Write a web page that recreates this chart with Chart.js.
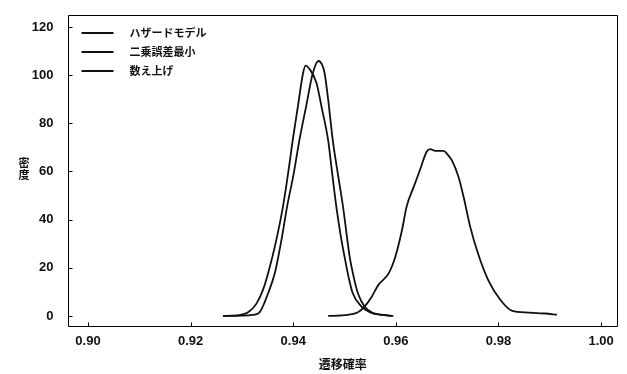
<!DOCTYPE html>
<html><head><meta charset="utf-8">
<script src="https://cdn.jsdelivr.net/npm/chart.js@4.4.1/dist/chart.umd.min.js"></script>
<style>html,body{margin:0;padding:0;background:#fff}#wrap{width:627px;height:374px;position:relative}</style>
</head><body><div id="wrap"><canvas id="c"></canvas></div>
<script>
const seriesLabels = ['ハザードモデル', '二乗誤差最小', '数え上げ'];

const hazardX = [0.9263,0.9290,0.9312,0.9328,0.9341,0.9351,0.9367,0.9380,0.9390,0.9399,0.9409,0.9419,0.9424,0.9432,0.9445,0.9456,0.9468,0.9476,0.9484,0.9492,0.9500,0.9508,0.9516,0.9533,0.9550,0.9570,0.9593];
const hazardY = [0,0.2,1.5,5,10.8,17.7,31.5,45.4,59.2,73,86.9,100.7,104,102.5,97,86,73,59,45.4,34,24.6,16,9.4,3.9,1.5,0.5,0];

const lsqX = [0.9263,0.9300,0.9320,0.9334,0.9351,0.9364,0.9377,0.9388,0.9401,0.9412,0.9425,0.9438,0.9449,0.9456,0.9461,0.9468,0.9477,0.9487,0.9497,0.9510,0.9518,0.9526,0.9539,0.9555,0.9575,0.9595];
const lsqY = [0,0.1,0.4,1.4,9.4,17.7,31.5,45.4,59.2,73,86.9,100.7,105.9,104.5,101,90,73,59,45.4,24.6,16,9.4,3.9,1.2,0.4,0];

const countX = [0.9468,0.9500,0.9526,0.9539,0.9553,0.9566,0.9586,0.9599,0.9612,0.9621,0.9635,0.9647,0.9660,0.9667,0.9677,0.9693,0.9701,0.9709,0.9722,0.9732,0.9745,0.9760,0.9780,0.9804,0.9826,0.9859,0.9891,0.9914];
const countY = [0,0.3,1.5,3.9,8,12.9,17.7,24.6,35.7,45.4,53.7,60.6,68.2,69.3,68.6,68.6,67,64.7,57.8,49.5,37,26,14.9,6.6,2.2,1.4,1,0.5];

const xTickValues = [0.90, 0.92, 0.94, 0.96, 0.98, 1.00];
const yTickValues = [0, 20, 40, 60, 80, 100, 120];
const xTitle = '遷移確率';
const yTitle = '密度';

const toPts = (xs, ys) => xs.map((v, i) => ({x: v, y: ys[i]}));
const seriesData = [toPts(hazardX, hazardY), toPts(lsqX, lsqY), toPts(countX, countY)];

const INK = '#111111';
const CJK = '"Noto Sans CJK JP", "Noto Sans CJK SC", sans-serif';
const NUM = '"Liberation Sans", Arial, sans-serif';

const framePlugin = {
  id: 'frame',
  afterDraw(chart) {
    const ctx = chart.ctx;
    const a = chart.chartArea;
    const x = chart.scales.x, y = chart.scales.y;
    const L = Math.round(a.left) + 0.5, R = Math.round(a.right) - 0.5;
    const T = Math.round(a.top) + 0.5, B = Math.round(a.bottom) - 0.5;
    ctx.save();
    ctx.strokeStyle = '#000000';
    ctx.lineWidth = 1;
    ctx.beginPath();
    ctx.moveTo(L, T); ctx.lineTo(R, T); ctx.lineTo(R, B); ctx.lineTo(L, B); ctx.closePath();
    x.ticks.forEach(t => {
      const px = Math.round(x.getPixelForValue(t.value)) + 0.5;
      ctx.moveTo(px, B); ctx.lineTo(px, B - 4);
    });
    y.ticks.forEach(t => {
      const py = Math.round(y.getPixelForValue(t.value)) + 0.5;
      ctx.moveTo(L, py); ctx.lineTo(L + 4, py);
    });
    ctx.stroke();
    // legend inside plot
    ctx.strokeStyle = INK;
    ctx.lineWidth = 2;
    ctx.font = 'bold 11px ' + CJK;
    ctx.fillStyle = INK;
    ctx.textBaseline = 'middle';
    ctx.textAlign = 'left';
    chart.data.datasets.forEach((ds, i) => {
      const ly = a.top + 18 + i * 19;
      ctx.beginPath();
      ctx.moveTo(a.left + 14, ly); ctx.lineTo(a.left + 46, ly);
      ctx.stroke();
      ctx.fillText(ds.label, a.left + 62, ly);
    });
    // stacked vertical y title
    const t = chart.options.scales.y.title.text;
    ctx.font = 'bold 11px ' + CJK;
    ctx.textAlign = 'center';
    const chars = Array.from(t);
    const cy = (a.top + a.bottom) / 2 - 2;
    chars.forEach((ch, i) => {
      ctx.fillText(ch, 24, cy + (i - (chars.length - 1) / 2) * 12.5);
    });
    ctx.restore();
  }
};

new Chart(document.getElementById('c'), {
  type: 'line',
  data: {
    datasets: seriesLabels.map((lab, i) => ({
      label: lab,
      data: seriesData[i],
      borderColor: INK,
      borderWidth: 1.8,
      pointRadius: 0,
      fill: false,
      cubicInterpolationMode: 'monotone'
    }))
  },
  options: {
    responsive: true,
    maintainAspectRatio: false,
    animation: false,
    devicePixelRatio: 1,
    layout: {padding: {top: 15, right: 9, left: 0, bottom: 0}},
    plugins: {legend: {display: false}, tooltip: {enabled: false}},
    scales: {
      x: {
        type: 'linear',
        min: 0.896, max: 1.0033,
        afterBuildTicks: s => { s.ticks = xTickValues.map(v => ({value: v})); },
        afterFit: s => { s.height = 47; s.paddingLeft = 0; s.paddingRight = 0; },
        grid: {display: false, drawTicks: false},
        border: {display: false},
        ticks: {padding: 7, color: INK, font: {family: NUM, size: 13, weight: 'bold'}, callback: v => Number(v).toFixed(2), maxRotation: 0},
        title: {display: true, text: xTitle, color: INK, font: {family: CJK, size: 12, weight: 'bold'}, padding: {top: 2, bottom: 2}}
      },
      y: {
        min: -4.6, max: 125,
        afterBuildTicks: s => { s.ticks = yTickValues.map(v => ({value: v})); },
        afterFit: s => { s.width = 67.5; s.paddingTop = 0; s.paddingBottom = 0; },
        grid: {display: false, drawTicks: false},
        border: {display: false},
        ticks: {padding: 14, color: INK, font: {family: NUM, size: 13, weight: 'bold'}},
        title: {display: false, text: yTitle}
      }
    }
  },
  plugins: [framePlugin]
});
</script>
</body></html>
